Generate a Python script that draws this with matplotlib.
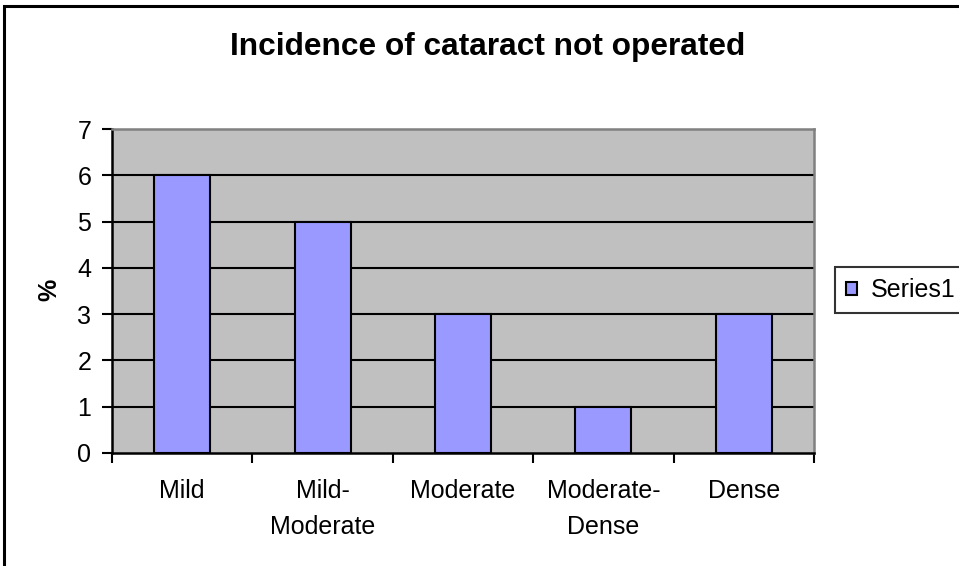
import matplotlib
matplotlib.use("Agg")
import matplotlib.pyplot as plt
from matplotlib.patches import Rectangle
import numpy as np

categories = ["Mild", "Mild-\nModerate", "Moderate", "Moderate-\nDense", "Dense"]
values = [6, 5, 3, 1, 3]
series_name = "Series1"
title = "Incidence of cataract not operated"
ylabel = "%"
yticks = [0, 1, 2, 3, 4, 5, 6, 7]

plt.rcParams['font.family'] = ['Liberation Sans', 'DejaVu Sans']

W, H = 959, 566
fig = plt.figure(figsize=(W / 100, H / 100), dpi=100)
fig.patch.set_facecolor("white")

# outer chart border (cropped on right and bottom)
fig.add_artist(Rectangle((4 / W, -0.2), 2.0, (H - 6) / H + 0.2, transform=fig.transFigure,
                         fill=False, edgecolor="black", linewidth=2.2, clip_on=False))

ax = fig.add_axes([112 / W, (H - 453) / H, (814 - 112) / W, (453 - 129) / H])
ax.set_facecolor("#C0C0C0")

x = np.arange(len(categories))
bars = ax.bar(x, values, width=0.4, color="#9999FF", edgecolor="black", linewidth=1.5,
              zorder=3, label=series_name)

ax.set_xlim(-0.5, len(categories) - 0.5)
ax.set_ylim(0, 7)
ax.set_yticks(yticks)
ax.set_yticklabels([str(t) for t in yticks])
for t in yticks[1:-1]:
    ax.axhline(t, color="black", linewidth=1.5, zorder=1)

ax.set_xticks(x)
ax.set_xticklabels(categories)
for lbl in ax.get_xticklabels():
    lbl.set_linespacing(1.6)
ax.set_xticks(np.arange(-0.5, len(categories)), minor=True)
ax.tick_params(axis="x", which="major", length=0, pad=19, labelsize=18)
ax.tick_params(axis="x", which="minor", length=7, width=1.5, direction="out", color="black")
ax.tick_params(axis="y", which="major", length=7, width=1.5, direction="out", pad=8, labelsize=18)

for side in ["left", "bottom"]:
    ax.spines[side].set_color("black")
    ax.spines[side].set_linewidth(1.8)
for side in ["top", "right"]:
    ax.spines[side].set_color("#808080")
    ax.spines[side].set_linewidth(1.8)

fig.text(488 / W, 1 - 47 / H, title, ha="center", va="center", fontsize=22.8, fontweight="bold")
fig.text(49 / W, 1 - 290 / H, ylabel, ha="center", va="center", rotation=90,
         fontsize=18, fontweight="bold")

leg = fig.legend(handles=[bars], labels=[series_name], loc="center left",
                 bbox_to_anchor=(835 / W, 1 - 290 / H), frameon=True, fancybox=False,
                 edgecolor="black", fontsize=18, handlelength=0.42, handleheight=0.42,
                 handletextpad=0.55, borderpad=0.45, borderaxespad=0)
leg.get_frame().set_linewidth(1.5)
leg.get_frame().set_facecolor("white")

fig.savefig("out.png", dpi=100)
